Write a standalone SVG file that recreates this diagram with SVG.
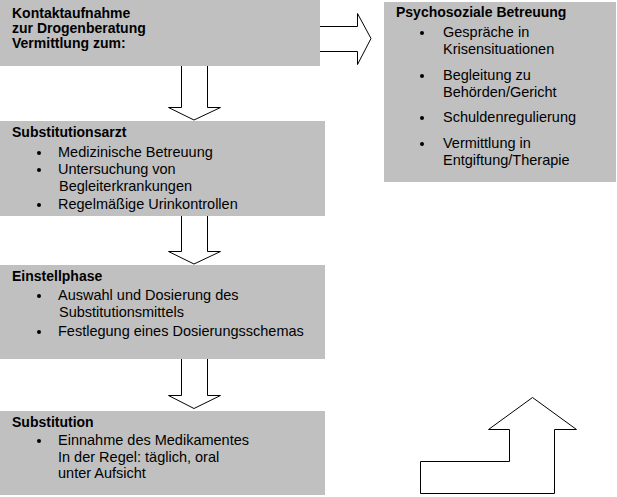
<svg xmlns="http://www.w3.org/2000/svg" width="617" height="497" viewBox="0 0 617 497">
<style>
.box{fill:#c0c0c0;stroke:none}
.t{font-family:"Liberation Sans",Arial,sans-serif;font-size:14.5px;fill:#000}
.b{font-family:"Liberation Sans",Arial,sans-serif;font-size:14px;font-weight:bold;fill:#000}
.arr{fill:#fff;stroke:#000;stroke-width:1}
.dot{fill:#000}
</style>
<rect width="617" height="497" fill="#fff"/>
<g id="connectors">
<path class="arr" d="M320,26.5 H357.5 V13.5 L371,38.5 L357.5,64.5 V51.5 H320"/>
<path class="arr" d="M181.5,66 V107.5 H168.5 L194,120 L220.5,107.5 H207.5 V66"/>
<path class="arr" d="M181.5,216 V251.5 H168.5 L194,264 L220.5,251.5 H207.5 V216"/>
<path class="arr" d="M181.5,359 V395.5 H168.5 L194,408.5 L220.5,395.5 H207.5 V359"/>
<polygon class="arr" points="532.5,397.5 576.5,429.5 554.5,429.5 554.5,493.5 420.5,493.5 420.5,461.5 509.5,461.5 509.5,429.5 488.5,429.5"/>
</g>
<g id="kontakt">
<rect class="box" x="0" y="0" width="320" height="66"/>
<text class="b" x="12" y="18">Kontaktaufnahme</text>
<text class="b" x="12" y="33">zur Drogenberatung</text>
<text class="b" x="12" y="48">Vermittlung zum:</text>
</g>
<g id="psychosozial">
<rect class="box" x="384" y="2" width="232" height="180"/>
<text class="b" x="396" y="17">Psychosoziale Betreuung</text>
<circle class="dot" cx="422" cy="33" r="2"/>
<text class="t" x="443" y="37">Gespräche in</text>
<text class="t" x="443" y="54">Krisensituationen</text>
<circle class="dot" cx="422" cy="76" r="2"/>
<text class="t" x="443" y="80">Begleitung zu</text>
<text class="t" x="443" y="97">Behörden/Gericht</text>
<circle class="dot" cx="422" cy="118" r="2"/>
<text class="t" x="443" y="122">Schuldenregulierung</text>
<circle class="dot" cx="422" cy="144" r="2"/>
<text class="t" x="443" y="148">Vermittlung in</text>
<text class="t" x="443" y="165">Entgiftung/Therapie</text>
</g>
<g id="arzt">
<rect class="box" x="0" y="121" width="325" height="95"/>
<text class="b" x="12" y="137">Substitutionsarzt</text>
<circle class="dot" cx="39" cy="153" r="2"/>
<text class="t" x="58" y="157">Medizinische Betreuung</text>
<circle class="dot" cx="39" cy="170" r="2"/>
<text class="t" x="58" y="174">Untersuchung von</text>
<text class="t" x="59" y="191">Begleiterkrankungen</text>
<circle class="dot" cx="39" cy="205" r="2"/>
<text class="t" x="58" y="209">Regelmäßige Urinkontrollen</text>
</g>
<g id="einstell">
<rect class="box" x="0" y="265" width="325" height="94"/>
<text class="b" x="12" y="281">Einstellphase</text>
<circle class="dot" cx="39" cy="296" r="2"/>
<text class="t" x="58" y="300">Auswahl und Dosierung des</text>
<text class="t" x="59" y="317">Substitutionsmittels</text>
<circle class="dot" cx="39" cy="332" r="2"/>
<text class="t" x="58" y="336">Festlegung eines Dosierungsschemas</text>
</g>
<g id="substitution">
<rect class="box" x="0" y="411" width="325" height="84"/>
<text class="b" x="12" y="427">Substitution</text>
<circle class="dot" cx="39" cy="441" r="2"/>
<text class="t" x="58" y="445">Einnahme des Medikamentes</text>
<text class="t" x="58" y="462">In der Regel: täglich, oral</text>
<text class="t" x="58" y="478">unter Aufsicht</text>
</g>
</svg>
